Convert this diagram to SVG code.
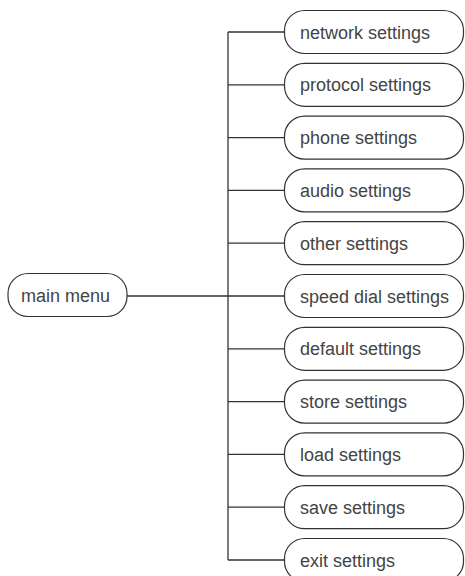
<svg xmlns="http://www.w3.org/2000/svg" width="465" height="576" viewBox="0 0 465 576">
<style>
.n rect{fill:#fff;stroke:#333;stroke-width:1.2}
.n text{font-family:"Liberation Sans",Arial,sans-serif;font-size:18px;fill:#444}
.c path{fill:none;stroke:#333;stroke-width:1.3}
</style>
<rect width="465" height="576" fill="#fff"/>
<g class="c" id="connectors">
<path d="M127,296H284"/>
<path d="M228,32V560"/>
<path d="M228,32H284M228,84.8H284M228,137.6H284M228,190.4H284M228,243.2H284M228,348.8H284M228,401.6H284M228,454.4H284M228,507.2H284M228,560H284"/>
</g>
<g class="n" id="main"><rect x="8" y="273.5" width="119" height="43" rx="20"/><text x="21" y="301.5">main menu</text></g>
<g class="n" id="n1"><rect x="284.5" y="10.5" width="179" height="43" rx="20"/><text x="300" y="38.5">network settings</text></g>
<g class="n" id="n2"><rect x="284.5" y="63.3" width="179" height="43" rx="20"/><text x="300" y="91.3">protocol settings</text></g>
<g class="n" id="n3"><rect x="284.5" y="116.1" width="179" height="43" rx="20"/><text x="300" y="144.1">phone settings</text></g>
<g class="n" id="n4"><rect x="284.5" y="168.9" width="179" height="43" rx="20"/><text x="300" y="196.9">audio settings</text></g>
<g class="n" id="n5"><rect x="284.5" y="221.7" width="179" height="43" rx="20"/><text x="300" y="249.7">other settings</text></g>
<g class="n" id="n6"><rect x="284.5" y="274.5" width="179" height="43" rx="20"/><text x="300" y="302.5">speed dial settings</text></g>
<g class="n" id="n7"><rect x="284.5" y="327.3" width="179" height="43" rx="20"/><text x="300" y="355.3">default settings</text></g>
<g class="n" id="n8"><rect x="284.5" y="380.1" width="179" height="43" rx="20"/><text x="300" y="408.1">store settings</text></g>
<g class="n" id="n9"><rect x="284.5" y="432.9" width="179" height="43" rx="20"/><text x="300" y="460.9">load settings</text></g>
<g class="n" id="n10"><rect x="284.5" y="485.7" width="179" height="43" rx="20"/><text x="300" y="513.7">save settings</text></g>
<g class="n" id="n11"><rect x="284.5" y="538.5" width="179" height="43" rx="20"/><text x="300" y="566.5">exit settings</text></g>
</svg>
